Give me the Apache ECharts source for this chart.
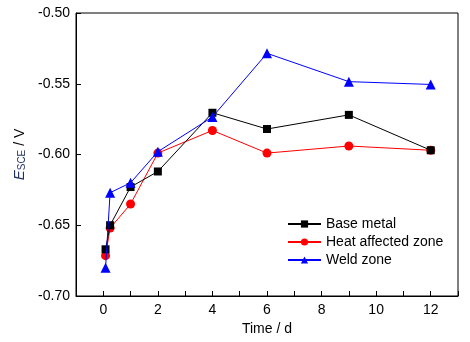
<!DOCTYPE html>
<html>
<head>
<meta charset="utf-8">
<script src="https://cdn.jsdelivr.net/npm/echarts@6/dist/echarts.min.js"></script>
<style>html,body{margin:0;padding:0;background:#fff}#c{width:470px;height:342px}</style>
</head>
<body>
<div id="c"></div>
<script>
const times = [0.083, 0.25, 1, 2, 4, 6, 9, 12];
const baseMetal = [-0.667, -0.650, -0.623, -0.612, -0.5705, -0.582, -0.572, -0.597];
const heatAffected = [-0.6715, -0.652, -0.635, -0.599, -0.583, -0.599, -0.594, -0.597];
const weldZone = [-0.680, -0.627, -0.620, -0.598, -0.5735, -0.5285, -0.5485, -0.5505];
const seriesNames = ['Base metal', 'Heat affected zone', 'Weld zone'];
const xTicks = [0, 2, 4, 6, 8, 10, 12];

const font = 'Liberation Sans, Arial, sans-serif';
function pairs(v){ return times.map((t,i)=>[t, v[i]]); }

const chart = echarts.init(document.getElementById('c'), null, {renderer:'canvas'});
chart.setOption({
  animation: false,
  backgroundColor: '#fff',
  grid: {left: 76, right: 12, top: 13, bottom: 46, show: true, borderColor: '#000', borderWidth: 1},
  xAxis: {
    type: 'value', min: -1, max: 13, interval: 1,
    name: 'Time / d', nameLocation: 'middle', nameGap: 24,
    nameTextStyle: {fontFamily: font, fontSize: 14, color: '#000'},
    axisLine: {show: true, onZero: false, lineStyle: {color: '#000', width: 1}},
    axisTick: {show: true, inside: true, length: 5, lineStyle: {color: '#000'},
      interval: function(i, v){ return xTicks.indexOf(v) >= 0; }},
    axisLabel: {fontFamily: font, fontSize: 14, color: '#000', margin: 7,
      formatter: function(v){ return xTicks.indexOf(v) >= 0 ? String(v) : ''; }},
    splitLine: {show: false}
  },
  yAxis: {
    type: 'value', min: -0.70, max: -0.50, interval: 0.05,
    name: '{e|E}{sub|SCE}{n| / V}', nameLocation: 'middle', nameGap: 42, nameRotate: 90,
    nameTextStyle: {fontFamily: font, fontSize: 14, color: '#000',
      rich: {
        e: {fontFamily: font, fontSize: 15, fontStyle: 'italic', color: '#1f2f5f', verticalAlign: 'bottom', lineHeight: 18},
        sub: {fontFamily: font, fontSize: 10, color: '#1f2f5f', verticalAlign: 'bottom', lineHeight: 10},
        n: {fontFamily: font, fontSize: 14, color: '#000', verticalAlign: 'bottom', lineHeight: 18}
      }},
    axisLine: {show: true, onZero: false, lineStyle: {color: '#000', width: 1}},
    axisTick: {show: true, inside: true, length: 5, lineStyle: {color: '#000'}},
    axisLabel: {fontFamily: font, fontSize: 14, color: '#000', margin: 6,
      formatter: function(v){ return v.toFixed(2); }},
    splitLine: {show: false}
  },
  legend: {
    left: 282, top: 212, orient: 'vertical', itemGap: 4, itemWidth: 33, itemHeight: 9,
    textStyle: {fontFamily: font, fontSize: 14, color: '#000', lineHeight: 14},
    data: seriesNames
  },
  series: [
    {name: seriesNames[0], type: 'line', data: pairs(baseMetal), symbol: 'rect', symbolSize: 8,
      lineStyle: {color: '#000', width: 1}, itemStyle: {color: '#000'}, z: 3},
    {name: seriesNames[1], type: 'line', data: pairs(heatAffected), symbol: 'circle', symbolSize: 9,
      lineStyle: {color: '#ff0000', width: 1}, itemStyle: {color: '#ff0000'}, z: 2},
    {name: seriesNames[2], type: 'line', data: pairs(weldZone), symbol: 'triangle', symbolSize: 10,
      lineStyle: {color: '#0000ff', width: 1}, itemStyle: {color: '#0000ff'}, z: 4}
  ]
});
</script>
</body>
</html>
